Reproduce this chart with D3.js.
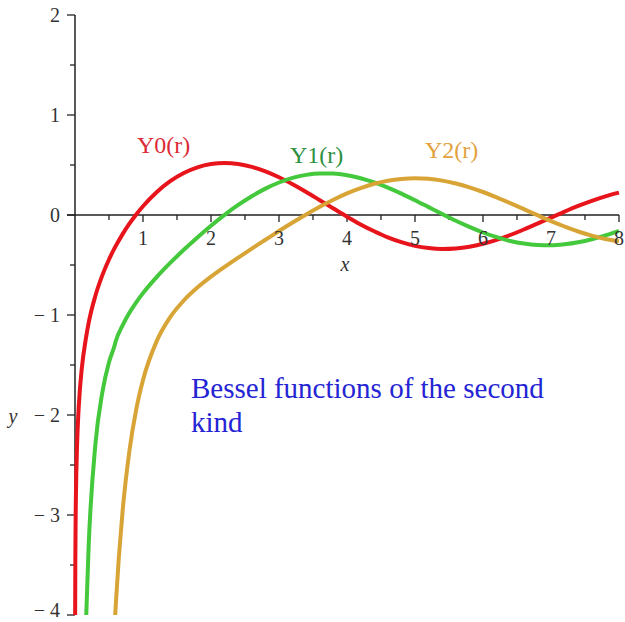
<!DOCTYPE html>
<html>
<head>
<meta charset="utf-8">
<script src="https://cdn.jsdelivr.net/npm/d3@7"></script>
<style>
body { margin: 0; background: #fff; }
text { font-family: "Liberation Serif", "DejaVu Serif", serif; }
</style>
</head>
<body>
<svg id="svg"></svg>
<script>
// values of the three curves
var xs = [0.002, 0.005, 0.01, 0.02, 0.03, 0.05, 0.07, 0.1, 0.16, 0.2, 0.3, 0.4, 0.5, 0.58, 0.6, 0.7, 0.8, 0.9, 1.0,
  1.2, 1.4, 1.6, 1.8, 2.0, 2.2, 2.4, 2.6, 2.8, 3.0, 3.2, 3.4, 3.6, 3.8, 4.0,
  4.2, 4.4, 4.6, 4.8, 5.0, 5.2, 5.4, 5.6, 5.8, 6.0, 6.2, 6.4, 6.6, 6.8, 7.0,
  7.2, 7.4, 7.6, 7.8, 8.0];
var y0 = [-4.03, -3.447, -3.006, -2.565, -2.307, -1.979, -1.765, -1.534, -1.235, -1.081, -0.807, -0.606, -0.445, -0.334, -0.309, -0.191, -0.087, 0.006, 0.088,
  0.228, 0.338, 0.420, 0.477, 0.510, 0.521, 0.510, 0.481, 0.436, 0.377, 0.307, 0.230, 0.148, 0.065, -0.017,
  -0.094, -0.163, -0.224, -0.272, -0.309, -0.331, -0.340, -0.335, -0.318, -0.288, -0.248, -0.200, -0.145, -0.086, -0.026,
  0.034, 0.091, 0.142, 0.187, 0.224];
var y1 = [null, null, null, null, null, null, null, null, -4.104, -3.324, -2.293, -1.781, -1.472, -1.310, -1.260, -1.103, -0.978, -0.873, -0.781,
  -0.621, -0.479, -0.348, -0.224, -0.107, 0.002, 0.101, 0.188, 0.264, 0.325, 0.371, 0.401, 0.415, 0.414, 0.398,
  0.368, 0.326, 0.274, 0.214, 0.148, 0.079, 0.010, -0.057, -0.119, -0.175, -0.222, -0.260, -0.286, -0.300, -0.303,
  -0.293, -0.273, -0.243, -0.204, -0.158];
var y2 = [null, null, null, null, null, null, null, null, null, null, null, null, null, -4.14, -3.893, -2.961, -2.359, -1.946, -1.651,
  -1.264, -1.022, -0.855, -0.726, -0.617, -0.519, -0.427, -0.336, -0.248, -0.160, -0.075, 0.006, 0.083, 0.153, 0.216,
  0.269, 0.312, 0.343, 0.361, 0.368, 0.362, 0.344, 0.315, 0.277, 0.230, 0.177, 0.119, 0.059, -0.002, -0.061,
  -0.115, -0.165, -0.206, -0.240, -0.263];

var seriesNames = ["Y0(r)", "Y1(r)", "Y2(r)"];
var seriesColors = ["#e8141c", "#44c83c", "#d8a436"];
var labelColors = ["#dc2a36", "#2e9040", "#e2a23e"];
var xTicks = [1, 2, 3, 4, 5, 6, 7, 8];
var yTicks = [-4, -3, -2, -1, 0, 1, 2];

var w = 625, h = 622;
var svg = d3.select("#svg").attr("width", w).attr("height", h);

var x = d3.scaleLinear().domain([0, 8]).range([75, 619]);
var y = d3.scaleLinear().domain([-4, 2]).range([615, 15]);

// clip to the plotting box
svg.append("clipPath").attr("id", "clip")
  .append("rect").attr("x", 60).attr("y", 15).attr("width", 565).attr("height", 600);

// x axis at y = 0
var xAxis = svg.append("g").attr("transform", "translate(0," + y(0) + ")");
xAxis.append("line").attr("x1", 67).attr("x2", x(8)).attr("stroke", "#222").attr("stroke-width", 1.5);
xAxis.selectAll(".minor").data(d3.range(0.5, 8, 1)).enter().append("line")
  .attr("x1", function(d){ return x(d); }).attr("x2", function(d){ return x(d); })
  .attr("y1", 0).attr("y2", 5).attr("stroke", "#222").attr("stroke-width", 1.3);
xAxis.selectAll(".major").data(xTicks).enter().append("line")
  .attr("x1", function(d){ return x(d); }).attr("x2", function(d){ return x(d); })
  .attr("y1", 0).attr("y2", 7).attr("stroke", "#222").attr("stroke-width", 1.3);

// y axis at x = 0
var yAxis = svg.append("g").attr("transform", "translate(" + x(0) + ",0)");
yAxis.append("line").attr("y1", y(2)).attr("y2", y(-4)).attr("stroke", "#222").attr("stroke-width", 1.5);
yAxis.selectAll(".minor").data(d3.range(-3.5, 2, 1)).enter().append("line")
  .attr("y1", function(d){ return y(d); }).attr("y2", function(d){ return y(d); })
  .attr("x1", 0).attr("x2", -5).attr("stroke", "#222").attr("stroke-width", 1.3);
yAxis.selectAll(".major").data(yTicks).enter().append("line")
  .attr("y1", function(d){ return y(d); }).attr("y2", function(d){ return y(d); })
  .attr("x1", 0).attr("x2", -8).attr("stroke", "#222").attr("stroke-width", 1.3);

// curves
var allY = [y0, y1, y2];
var line = d3.line()
  .defined(function(d){ return d[1] != null; })
  .x(function(d){ return x(d[0]); })
  .y(function(d){ return y(d[1]); })
  .curve(d3.curveMonotoneX);

svg.append("g").attr("clip-path", "url(#clip)")
  .selectAll("path").data(allY).enter().append("path")
  .attr("d", function(ys){ return line(xs.map(function(v, i){ return [v, ys[i]]; })); })
  .attr("fill", "none")
  .attr("stroke", function(d, i){ return seriesColors[i]; })
  .attr("stroke-width", 4)
  .attr("stroke-linejoin", "round");

// tick labels (drawn over the curves)
svg.selectAll(".xl").data(xTicks).enter().append("text")
  .attr("x", function(d){ return x(d); }).attr("y", y(0) + 30)
  .attr("text-anchor", "middle").attr("font-size", 20).attr("fill", "#333")
  .text(function(d){ return d; });
svg.selectAll(".yl").data(yTicks).enter().append("text")
  .attr("x", x(0) - 15).attr("y", function(d){ return Math.min(y(d) + 7, 617); })
  .attr("text-anchor", "end").attr("font-size", 20).attr("fill", "#333")
  .text(function(d){ return d < 0 ? "\u2212 " + (-d) : d; });

svg.append("text").attr("x", 345).attr("y", 271).attr("font-size", 20)
  .attr("font-style", "italic").attr("fill", "#333").attr("text-anchor", "middle").text("x");
svg.append("text").attr("x", 13).attr("y", 423).attr("font-size", 20)
  .attr("font-style", "italic").attr("fill", "#333").attr("text-anchor", "middle").text("y");

// curve names
var labelPos = [[137, 153], [290, 163], [425, 158]];
svg.selectAll(".nm").data(seriesNames).enter().append("text")
  .attr("x", function(d, i){ return labelPos[i][0]; })
  .attr("y", function(d, i){ return labelPos[i][1]; })
  .attr("font-size", 24)
  .attr("fill", function(d, i){ return labelColors[i]; })
  .text(function(d){ return d; });

var title = svg.append("text").attr("x", 191).attr("y", 398).attr("font-size", 29).attr("fill", "#2424d4");
title.append("tspan").attr("x", 191).text("Bessel functions of the second");
title.append("tspan").attr("x", 191).attr("dy", 34).text("kind");
</script>
</body>
</html>
